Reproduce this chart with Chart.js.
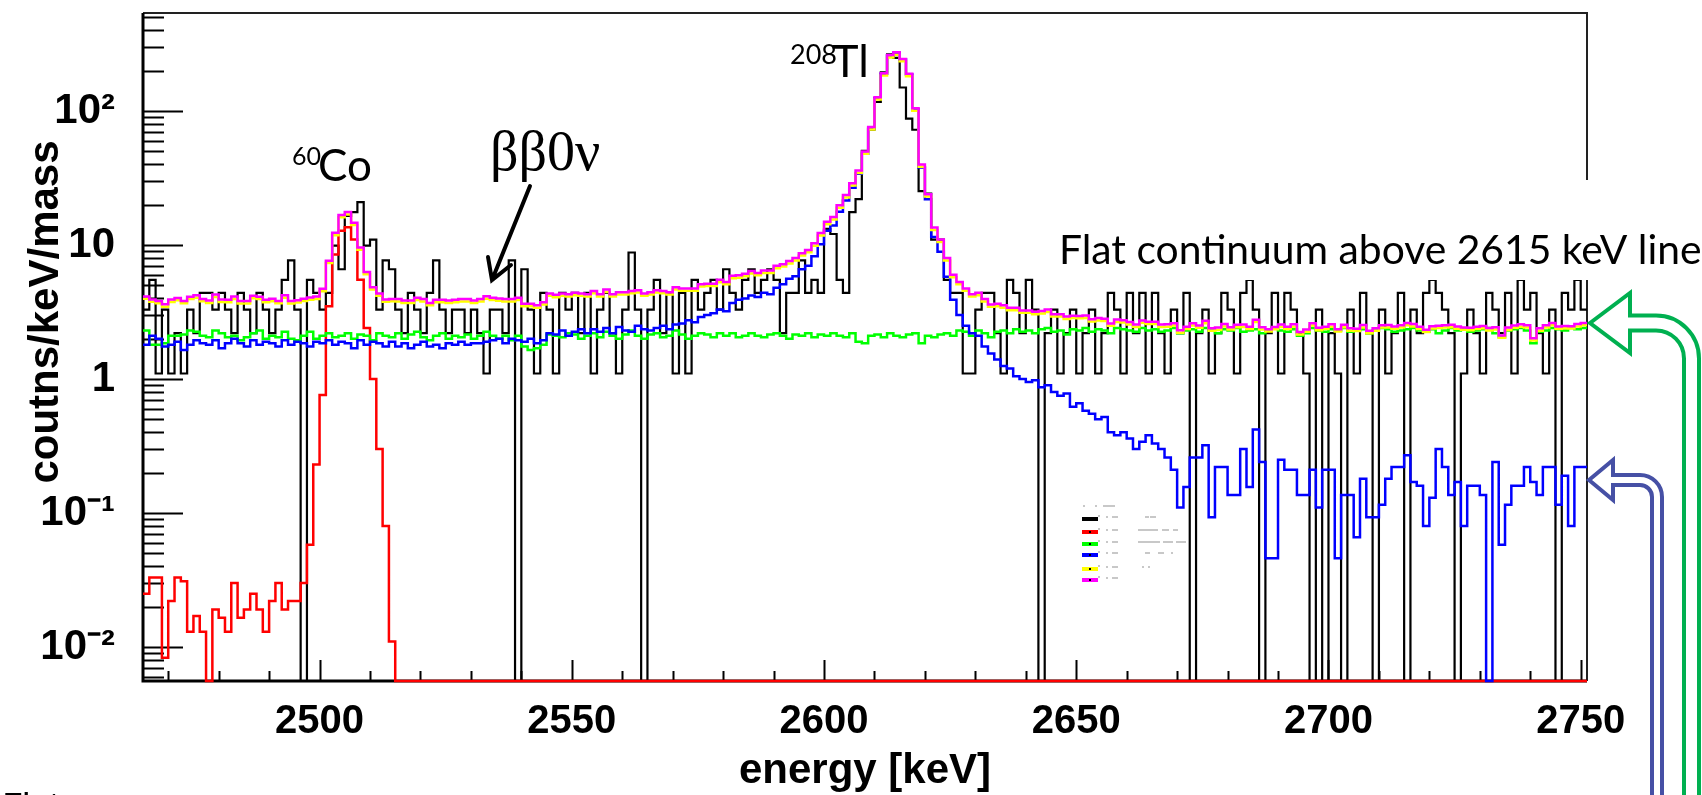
<!DOCTYPE html>
<html><head><meta charset="utf-8">
<script src="https://cdn.jsdelivr.net/npm/chart.js@4.4.1/dist/chart.umd.min.js"></script>
<style>html,body{margin:0;padding:0;background:#fff;overflow:hidden}canvas{display:block}</style>
</head><body>
<canvas id="c" width="1702" height="795"></canvas>
<script>
// ---------------- data (1.25 keV bins starting at 2465 keV) ----------------
const binStart = 2465;
const binWidth = 1.25;
const xTickValues = [2470,2480,2490,2500,2510,2520,2530,2540,2550,2560,2570,2580,2590,2600,2610,2620,2630,2640,2650,2660,2670,2680,2690,2700,2710,2720,2730,2740,2750];
const xTickLabels = {2500:'2500',2550:'2550',2600:'2600',2650:'2650',2700:'2700',2750:'2750'};
const yTickValues = [0.006,0.007,0.008,0.009,0.01,0.02,0.03,0.04,0.05,0.06,0.07,0.08,0.09,0.1,0.2,0.3,0.4,0.5,0.6,0.7,0.8,0.9,1,2,3,4,5,6,7,8,9,10,20,30,40,50,60,70,80,90,100,200,300,400,500];
const yTickLabels = {0.01:'10\u207B\u00B2',0.1:'10\u207B\u00B9',1:'1',10:'10',100:'10\u00B2'};
const xTitle = 'energy [keV]';
const yTitle = 'coutns/keV/mass';

// black: data
const black = [
3.3,5.5,1.1,3.3,1.1,2.2,1.1,3.3,2.2,4.4,
4.4,3.3,4.4,3.3,2.2,4.4,3.3,2.2,4.4,3.3,
2.2,3.3,5.5,7.7,3.3,0,5.5,4.4,3.3,4.4,
9.9,6.6,16.5,17.6,20.9,9.9,11,3.3,7.7,6.6,
3.3,2.2,4.4,3.3,2.2,4.4,7.7,3.3,2.2,3.3,
3.3,2.2,3.3,2.2,1.1,3.3,3.3,2.2,7.7,0,
6.6,3.3,1.1,4.4,3.3,1.1,4.4,3.3,4.4,2.2,
4.4,1.1,3.3,4.4,2.2,1.1,3.3,8.8,3.3,0,
3.3,5.5,2.2,4.4,1.1,4.4,1.1,5.5,3.3,4.4,
5.5,3.3,6.6,4.4,3.3,5.5,6.6,4.4,5.5,6.6,
5.5,2.2,4.4,4.4,7.7,4.4,5.5,4.4,13.2,12.1,
5.5,4.4,17.6,22,50.6,72.6,117,195,265,250,
150,88,72.6,25.3,24.2,11,11,5.5,4.4,4.4,
1.1,1.1,3.3,4.4,4.4,2.2,1.1,5.5,4.4,2.2,
5.5,3.3,0,2.2,3.3,1.1,2.2,3.3,1.1,2.2,
3.3,1.1,2.2,4.4,3.3,1.1,4.4,2.2,4.4,1.1,
4.4,2.2,1.1,3.3,2.2,4.4,0,2.2,3.3,1.1,
2.2,4.4,3.3,1.1,4.4,5.5,3.3,0,2.2,4.4,
1.1,4.4,3.3,2.2,1.1,0,3.3,0,2.2,1.1,
0,3.3,1.1,4.4,2.2,0,3.3,1.1,2.2,4.4,
0,3.3,2.2,4.4,5.5,4.4,3.3,2.2,0,1.1,
3.3,2.2,1.1,4.4,3.3,2.2,4.4,1.1,5.5,3.3,
4.4,2.2,1.1,3.3,0,4.4,3.3,5.5,3.3
];
// red: 60Co
const red = [
0.025,0.033,0.033,0.0083,0.022,0.033,0.031,0.013,0.017,0.013,
0,0.019,0.0165,0.013,0.030,0.0165,0.019,0.025,0.019,0.013,
0.022,0.030,0.019,0.022,0.022,0.030,0.058,0.23,0.76,3.5,
8.5,12.8,13.6,11.0,5.5,2.4,1.0,0.3,0.08,0.011,
0,0,0,0,0,0,0,0,0,0,
0,0,0,0,0,0,0,0,0,0,
0,0,0,0,0,0,0,0,0,0,
0,0,0,0,0,0,0,0,0,0,
0,0,0,0,0,0,0,0,0,0,
0,0,0,0,0,0,0,0,0,0,
0,0,0,0,0,0,0,0,0,0,
0,0,0,0,0,0,0,0,0,0,
0,0,0,0,0,0,0,0,0,0,
0,0,0,0,0,0,0,0,0,0,
0,0,0,0,0,0,0,0,0,0,
0,0,0,0,0,0,0,0,0,0,
0,0,0,0,0,0,0,0,0,0,
0,0,0,0,0,0,0,0,0,0,
0,0,0,0,0,0,0,0,0,0,
0,0,0,0,0,0,0,0,0,0,
0,0,0,0,0,0,0,0,0,0,
0,0,0,0,0,0,0,0,0,0,
0,0,0,0,0,0,0,0,0
];
// green: flat continuum
const green = [
2.3,1.8,1.8,1.85,2.1,2.1,2.15,2.3,2.25,2.1,
2.05,2.3,2.2,2.05,2.1,1.95,2.05,2.2,2.3,2.0,
2.1,2.05,2.25,2.0,1.95,2.1,2.25,2.0,2.1,2.2,
2.05,2.1,2.2,2.0,2.15,2.1,1.95,2.2,2.1,2.05,
2.2,2.0,2.15,2.25,2.05,1.95,2.1,2.2,2.0,2.1,
2.05,2.15,2.0,2.1,2.25,2.1,2.0,2.1,1.95,2.1,
1.75,1.65,1.7,1.8,2.15,2.1,2.05,2.2,2.15,2.0,
2.1,2.2,2.05,2.25,2.1,2.0,2.15,2.3,2.1,2.0,
2.15,2.2,2.05,2.1,2.3,2.15,2.0,2.1,2.2,2.15,
2.05,2.2,2.1,2.2,2.05,2.1,2.2,2.1,2.05,2.15,
2.2,2.1,2.0,2.15,2.1,2.2,2.05,2.15,2.1,2.2,
2.1,2.05,2.2,1.9,1.85,2.1,2.15,2.05,2.2,2.1,
2.05,2.15,2.2,1.85,2.1,2.05,2.15,2.2,2.1,2.3,
2.25,2.1,2.3,2.2,2.05,2.25,2.3,2.2,2.35,2.25,
2.3,2.2,2.35,2.4,2.25,2.3,2.15,2.35,2.3,2.4,
2.25,2.35,2.3,2.2,2.4,2.35,2.3,2.25,2.4,2.3,
2.35,2.25,2.3,2.4,2.2,2.3,2.35,2.25,2.4,2.3,
2.2,2.35,2.3,2.4,2.25,2.3,2.35,2.2,2.3,2.4,
2.3,2.25,2.35,2.1,2.2,2.4,2.3,2.25,2.35,2.3,
2.4,2.25,2.3,2.35,2.2,2.3,2.4,2.35,2.25,2.3,
2.35,2.4,2.3,2.25,2.35,2.2,2.3,2.4,2.3,2.35,
2.25,2.3,2.35,2.4,2.2,2.05,2.3,2.35,2.4,2.3,
1.85,2.25,2.3,2.4,2.35,2.3,2.4,2.35,2.4
];
// blue: 208Tl
const blue = [
1.8,2.1,2.0,1.75,1.8,1.9,1.65,1.8,1.95,1.85,
1.8,1.95,1.7,1.85,2.0,1.85,1.75,1.95,1.8,1.9,
1.85,1.75,1.95,1.8,1.9,1.85,1.75,1.9,1.85,1.95,
1.8,1.9,1.85,1.7,1.95,1.8,1.9,1.85,1.75,1.9,
1.75,1.85,1.7,1.8,1.9,1.75,1.8,1.7,1.85,1.8,
1.9,1.8,1.85,1.85,1.9,1.95,2.0,1.85,2.0,1.95,
1.9,2.0,1.85,1.95,2.2,2.15,2.3,2.1,2.25,2.35,
2.2,2.35,2.25,2.4,2.2,2.45,2.3,2.25,2.5,2.35,
2.3,2.4,2.5,2.35,2.55,2.6,2.75,2.65,2.9,3.0,
3.1,3.3,3.2,3.7,3.9,4.0,4.2,4.1,4.4,4.3,
4.8,5.1,5.6,5.85,6.6,7.0,8.25,10.15,12.8,14.0,
17.7,21.55,26.8,34.1,48.15,73.9,124.85,189.95,259.8,272.9,
243,188,103,38,22,11.5,8.9,5.8,3.9,3.0,
2.5,2.2,2.1,1.75,1.55,1.4,1.25,1.2,1.05,1.0,
0.95,0.98,0.87,0.9,0.8,0.75,0.78,0.62,0.66,0.58,
0.55,0.5,0.52,0.40,0.38,0.40,0.36,0.30,0.34,0.38,
0.33,0.30,0.26,0.21,0.11,0.156,0.26,0.26,0.32,0.093,
0.22,0.22,0.136,0.136,0.30,0.156,0.42,0.24,0.046,0.046,
0.25,0.21,0.21,0.136,0.136,0.21,0.11,0.21,0.21,0.046,
0.136,0.136,0.066,0.18,0.093,0.093,0.115,0.18,0.22,0.22,
0.27,0.17,0.16,0.08,0.13,0.30,0.22,0.136,0.17,0.08,
0.16,0.16,0.136,0,0.24,0.058,0.115,0.16,0.16,0.22,
0.17,0.136,0.22,0.22,0.115,0.19,0.08,0.22,0.22
];
// yellow: partial sum (just under the total)
const yellow = [
3.97,3.77,3.68,3.47,3.76,3.87,3.68,3.95,4.05,3.8,
3.7,4.1,3.76,3.75,3.96,3.67,3.67,4.01,3.96,3.75,
3.81,3.68,4.05,3.67,3.72,3.82,3.9,3.96,4.52,7.34,
11.86,16.13,16.94,14.11,9.22,6.05,4.66,4.18,3.77,3.8,
3.79,3.7,3.7,3.89,3.79,3.55,3.74,3.74,3.7,3.74,
3.79,3.79,3.7,3.79,3.98,3.89,3.84,3.79,3.79,3.89,
3.5,3.5,3.41,3.6,4.18,4.08,4.18,4.13,4.22,4.18,
4.13,4.37,4.13,4.46,4.13,4.27,4.27,4.37,4.42,4.18,
4.27,4.42,4.37,4.27,4.66,4.56,4.56,4.56,4.9,4.94,
4.94,5.28,5.09,5.66,5.71,5.86,6.14,5.95,6.19,6.19,
6.72,6.91,7.3,7.68,8.35,8.83,9.89,11.81,14.3,15.55,
19.0,22.66,27.84,34.56,48.0,72.96,121.9,184.3,251.5,264.0,
235.2,182.4,100.8,38.4,23.04,12.96,10.56,7.68,5.76,5.09,
4.56,4.13,4.22,3.79,3.46,3.5,3.41,3.26,3.26,3.12,
3.12,3.05,3.09,3.17,2.93,2.93,2.81,2.85,2.84,2.86,
2.69,2.74,2.71,2.5,2.67,2.64,2.55,2.45,2.63,2.57,
2.57,2.45,2.46,2.51,2.22,2.36,2.51,2.41,2.61,2.29,
2.32,2.47,2.34,2.44,2.45,2.36,2.66,2.34,2.26,2.35,
2.45,2.36,2.46,2.15,2.25,2.51,2.31,2.36,2.46,2.26,
2.44,2.29,2.28,2.43,2.2,2.29,2.42,2.43,2.37,2.42,
2.52,2.47,2.36,2.24,2.38,2.4,2.42,2.44,2.37,2.33,
2.31,2.36,2.39,2.3,2.34,2.03,2.32,2.41,2.46,2.42,
1.94,2.29,2.42,2.52,2.37,2.39,2.38,2.47,2.52
];
// magenta: total
const magenta = [
4.13,3.93,3.83,3.61,3.92,4.03,3.83,4.11,4.22,3.96,
3.85,4.27,3.92,3.91,4.13,3.82,3.82,4.18,4.12,3.91,
3.97,3.83,4.22,3.82,3.87,3.98,4.06,4.13,4.71,7.65,
12.35,16.8,17.65,14.7,9.6,6.3,4.85,4.35,3.93,3.96,
3.95,3.85,3.85,4.05,3.95,3.7,3.9,3.9,3.85,3.9,
3.95,3.95,3.85,3.95,4.15,4.05,4.0,3.95,3.95,4.05,
3.65,3.65,3.55,3.75,4.35,4.25,4.35,4.3,4.4,4.35,
4.3,4.55,4.3,4.65,4.3,4.45,4.45,4.55,4.6,4.35,
4.45,4.6,4.55,4.45,4.85,4.75,4.75,4.75,5.1,5.15,
5.15,5.5,5.3,5.9,5.95,6.1,6.4,6.2,6.45,6.45,
7.0,7.2,7.6,8.0,8.7,9.2,10.3,12.3,14.9,16.2,
19.8,23.6,29,36,50,76,127,192,262,275,
245,190,105,40,24,13.5,11,8,6,5.3,
4.75,4.3,4.4,3.95,3.6,3.65,3.55,3.4,3.4,3.25,
3.25,3.18,3.22,3.3,3.05,3.05,2.93,2.97,2.96,2.98,
2.8,2.85,2.82,2.6,2.78,2.75,2.66,2.55,2.74,2.68,
2.68,2.55,2.56,2.61,2.31,2.46,2.61,2.51,2.72,2.39,
2.42,2.57,2.44,2.54,2.55,2.46,2.77,2.44,2.35,2.45,
2.55,2.46,2.56,2.24,2.34,2.61,2.41,2.46,2.56,2.35,
2.54,2.39,2.37,2.53,2.29,2.39,2.52,2.53,2.47,2.52,
2.62,2.57,2.46,2.33,2.48,2.5,2.52,2.54,2.47,2.43,
2.41,2.46,2.49,2.4,2.44,2.11,2.42,2.51,2.56,2.52,
2.02,2.39,2.52,2.62,2.47,2.49,2.48,2.57,2.62
];

// ---------------- chart ----------------
const Y_MIN = 0.00557, Y_MAX = 540;
const X_MIN = binStart, X_MAX = binStart + binWidth * black.length;
const LABEL_FONT = '"Liberation Sans", Arial, sans-serif';

function histPoints(vals) {
  const f = v => (v > 0 ? v : Y_MIN);
  const pts = [{x: binStart, y: f(vals[0])}];
  vals.forEach((v, i) => pts.push({x: binStart + binWidth * (i + 0.5), y: f(v)}));
  pts.push({x: X_MAX, y: f(vals[vals.length - 1])});
  return pts;
}
function isDecade(v) { const l = Math.log10(v); return Math.abs(l - Math.round(l)) < 1e-9; }

function ds(vals, color, w) {
  return {data: histPoints(vals), borderColor: color, borderWidth: w, stepped: 'middle',
          pointRadius: 0, fill: false, tension: 0, clip: {left: 2, top: 2, right: 2, bottom: 5}};
}

const framePlugin = {
  id: 'frame',
  beforeDatasetsDraw(chart) {
    const {ctx, chartArea: a, scales: {x, y}} = chart;
    ctx.save();
    ctx.strokeStyle = '#000';
    ctx.lineWidth = 2;
    ctx.beginPath();
    x.ticks.forEach(t => {
      const px = Math.round(x.getPixelForValue(t.value)) + 0.5;
      const L = xTickLabels[t.value] ? 21 : 10;
      ctx.moveTo(px, a.bottom); ctx.lineTo(px, a.bottom - L);
    });
    y.ticks.forEach(t => {
      const py = Math.round(y.getPixelForValue(t.value)) + 0.5;
      const L = isDecade(t.value) ? 40 : 21;
      ctx.moveTo(a.left, py); ctx.lineTo(a.left + L, py);
    });
    ctx.stroke();
    ctx.strokeStyle = '#222'; ctx.lineWidth = 2;
    ctx.beginPath();
    ctx.moveTo(a.left, a.top); ctx.lineTo(a.right, a.top); ctx.lineTo(a.right, a.bottom);
    ctx.stroke();
    ctx.strokeStyle = '#000'; ctx.lineWidth = 3;
    ctx.beginPath();
    ctx.moveTo(a.left, a.top); ctx.lineTo(a.left, a.bottom); ctx.lineTo(a.right, a.bottom);
    ctx.stroke();
    // y-axis title
    ctx.save();
    ctx.translate(58, 312);
    ctx.rotate(-Math.PI / 2);
    ctx.fillStyle = '#000';
    ctx.font = 'bold 42px ' + LABEL_FONT;
    ctx.textAlign = 'center';
    ctx.textBaseline = 'alphabetic';
    ctx.fillText(yTitle, 0, 0);
    ctx.restore();
    ctx.restore();
  }
};

function bentArrow(ctx, o) {
  const cy = o.shaftTop + o.rOut;
  ctx.save();
  ctx.beginPath();
  ctx.moveTo(o.tipX, o.tipY);
  ctx.lineTo(o.headX, o.tipY - o.headHalf);
  ctx.lineTo(o.headX, o.shaftTop);
  ctx.lineTo(o.bendX, o.shaftTop);
  ctx.arc(o.bendX, cy, o.rOut, -Math.PI / 2, 0, false);
  ctx.lineTo(o.bendX + o.rOut, 820);
  ctx.lineTo(o.bendX + o.rIn, 820);
  ctx.lineTo(o.bendX + o.rIn, cy);
  ctx.arc(o.bendX, cy, o.rIn, 0, -Math.PI / 2, true);
  ctx.lineTo(o.headX, o.shaftBot);
  ctx.lineTo(o.headX, o.tipY + o.headHalf);
  ctx.closePath();
  ctx.fillStyle = '#fff';
  ctx.fill();
  ctx.strokeStyle = o.color; ctx.lineWidth = 4; ctx.lineJoin = 'miter';
  ctx.stroke();
  ctx.restore();
}

const notesPlugin = {
  id: 'notes',
  afterDraw(chart) {
    const ctx = chart.ctx;
    ctx.save();
    ctx.fillStyle = '#000';
    ctx.textBaseline = 'alphabetic';
    ctx.textAlign = 'left';
    // 60Co
    ctx.font = '25px Lato';
    ctx.fillText('60', 292, 165);
    ctx.font = '44px Lato';
    ctx.fillText('Co', 318, 181);
    // 208Tl
    ctx.font = '27px Lato';
    ctx.fillText('208', 790, 64);
    ctx.font = '45px Lato';
    ctx.fillText('Tl', 832, 77);
    // bb0v
    ctx.font = '56px "Liberation Serif"';
    ctx.fillText('\u03B2\u03B20\u03BD', 490, 170);
    // arrow to bb0v
    ctx.strokeStyle = '#000'; ctx.lineWidth = 4; ctx.lineCap = 'round';
    ctx.beginPath();
    ctx.moveTo(530, 186); ctx.lineTo(492, 280);
    ctx.moveTo(488, 257); ctx.lineTo(492, 280); ctx.lineTo(511, 265);
    ctx.stroke();
    // flat continuum note (white box over the frame)
    ctx.fillStyle = '#fff';
    ctx.fillRect(1050, 180, 652, 100);
    ctx.fillStyle = '#000';
    const txt = 'Flat continuum above 2615 keV line';
    let fs = 36;
    ctx.font = fs + 'px Lato';
    fs = fs * 642 / ctx.measureText(txt).width;
    ctx.font = fs.toFixed(1) + 'px Lato';
    ctx.fillText(txt, 1059, 264);
    // bottom-left cut text
    ctx.font = '36px Lato';
    ctx.fillText('Flat', 2, 819);
    // bent arrows
    bentArrow(ctx, {tipX: 1590, tipY: 323, headX: 1630, headHalf: 30, shaftTop: 315.5, shaftBot: 330.5,
                    bendX: 1656, rOut: 43, rIn: 28, color: '#00b050'});
    bentArrow(ctx, {tipX: 1589, tipY: 480, headX: 1613, headHalf: 20, shaftTop: 475, shaftBot: 485,
                    bendX: 1640, rOut: 22, rIn: 12, color: '#4650a5'});
    // tiny legend
    const rows = [
      {c: '#000', y: 519, m: false, g: [[1145, 4], [1150, 6]]},
      {c: '#f00', y: 532, m: true, g: [[1138, 20], [1162, 7], [1173, 5]]},
      {c: '#0f0', y: 544, m: true, g: [[1138, 22], [1163, 10], [1176, 10]]},
      {c: '#00f', y: 555, m: true, g: [[1145, 5], [1158, 6], [1171, 2]]},
      {c: '#ff0', y: 569, m: true, g: [[1142, 2], [1148, 2]]},
      {c: '#f0f', y: 580, m: true, g: []}
    ];
    ctx.fillStyle = '#c8c8c8';
    ctx.fillRect(1083, 505, 2, 2); ctx.fillRect(1095, 505, 2, 2); ctx.fillRect(1103, 505, 12, 2);
    rows.forEach(r => {
      ctx.fillStyle = r.c;
      ctx.fillRect(1082, r.y - 2, 16, 4);
      if (r.m) { ctx.fillStyle = '#000'; ctx.fillRect(1089, r.y - 1, 2, 2); }
      ctx.fillStyle = '#c8c8c8';
      ctx.fillRect(1098, r.y - 4, 2, 2); ctx.fillRect(1106, r.y - 3, 2, 2); ctx.fillRect(1112, r.y - 3, 6, 2);
      r.g.forEach(gg => ctx.fillRect(gg[0], r.y - 3, gg[1], 2));
    });
    ctx.restore();
  }
};

new Chart(document.getElementById('c'), {
  type: 'line',
  data: {
    datasets: [
      ds(magenta, '#ff00ff', 2.5),
      ds(yellow, '#ffff00', 2.5),
      ds(blue, '#0000ff', 2.5),
      ds(green, '#00ff00', 2.5),
      ds(red, '#ff0000', 2.5),
      ds(black, '#000000', 2.2)
    ]
  },
  options: {
    responsive: false,
    animation: false,
    devicePixelRatio: 1,
    layout: {padding: {left: 0, top: 13, right: 115, bottom: 0}},
    plugins: {legend: {display: false}, tooltip: {enabled: false}},
    scales: {
      x: {
        type: 'linear', min: X_MIN, max: X_MAX,
        afterBuildTicks: s => { s.ticks = xTickValues.map(v => ({value: v})); },
        afterFit: s => { s.height = 114; s.paddingLeft = 0; s.paddingRight = 0; },
        grid: {display: false, drawTicks: false, tickLength: 0},
        border: {display: false},
        ticks: {autoSkip: false, maxRotation: 0, padding: 17, color: '#000',
                font: {family: LABEL_FONT, weight: 'bold', size: 40},
                callback: v => xTickLabels[v] || ''},
        title: {display: true, text: xTitle, color: '#000', padding: {top: 0, bottom: 3},
                font: {family: LABEL_FONT, weight: 'bold', size: 42, lineHeight: 1}}
      },
      y: {
        type: 'logarithmic', min: Y_MIN, max: Y_MAX,
        afterBuildTicks: s => { s.ticks = yTickValues.map(v => ({value: v})); },
        afterFit: s => { s.width = 143; s.paddingTop = 0; s.paddingBottom = 0; },
        grid: {display: false, drawTicks: false, tickLength: 0},
        border: {display: false},
        ticks: {autoSkip: false, padding: 28, color: '#000',
                font: {family: LABEL_FONT, weight: 'bold', size: 42},
                callback: v => yTickLabels[v] || ''}
      }
    }
  },
  plugins: [framePlugin, notesPlugin]
});
</script>
</body></html>
